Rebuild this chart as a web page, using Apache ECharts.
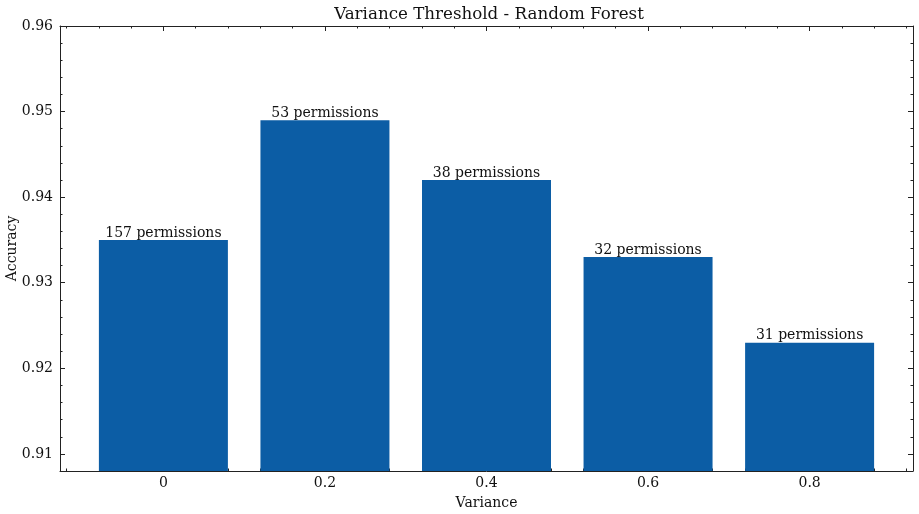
<!DOCTYPE html>
<html>
<head>
<meta charset="utf-8">
<script src="https://cdn.jsdelivr.net/npm/echarts@6/dist/echarts.min.js"></script>
<style>
  html, body { margin: 0; padding: 0; background: #fff; }
  #chart { width: 919px; height: 514px; }
</style>
</head>
<body>
<div id="chart"></div>
<script>
// data
const variances = [0, 0.2, 0.4, 0.6, 0.8];
const accuracy = [0.935, 0.949, 0.942, 0.933, 0.923];
const permissions = [157, 53, 38, 32, 31];
const xTicks = [0, 0.2, 0.4, 0.6, 0.8];
const yTicks = [0.91, 0.92, 0.93, 0.94, 0.95, 0.96];

const FONT = 'DejaVu Serif';
const INK = '#222';
const X_MIN = -0.128, X_MAX = 0.928;
const Y_MIN = 0.908, Y_MAX = 0.96;

// minor tick positions
const xMinor = [];
for (let i = -3; i <= 23; i++) xMinor.push(+(i * 0.04).toFixed(3));
const yMinor = [];
for (let i = 454; i <= 480; i++) yMinor.push(+(i * 0.002).toFixed(3));

function axis(kind, pos, ticks, len, withLine, withLabels, extra) {
  return Object.assign({
    type: 'value',
    position: pos,
    min: kind === 'x' ? X_MIN : Y_MIN,
    max: kind === 'x' ? X_MAX : Y_MAX,
    axisLine: { show: withLine, onZero: false, lineStyle: { color: INK, width: 1 } },
    axisTick: { show: true, inside: true, length: len, customValues: ticks,
                lineStyle: { color: INK, width: 1 } },
    axisLabel: withLabels ? {
      show: true, customValues: ticks, fontFamily: FONT, fontSize: 14, color: '#111',
      margin: kind === 'x' ? 5 : 7,
      formatter: v => String(+v.toFixed(3))
    } : { show: false },
    splitLine: { show: false }
  }, extra || {});
}

const bars = variances.map((v, i) => [v, accuracy[i]]);

const option = {
  animation: false,
  backgroundColor: '#fff',
  title: {
    text: 'Variance Threshold - Random Forest',
    left: 484, top: 1, textAlign: 'center',
    textStyle: { fontFamily: FONT, fontSize: 16.7, fontWeight: 'normal', color: '#111' }
  },
  grid: { left: 60, right: 6, top: 26, bottom: 43, outerBoundsMode: 'none', containLabel: false },
  xAxis: [
    axis('x', 'bottom', xTicks, 5, true, true, {
      name: 'Variance', nameLocation: 'middle', nameGap: 25, nameMoveOverlap: false,
      nameTextStyle: { fontFamily: FONT, fontSize: 14, color: '#111' }
    }),
    axis('x', 'bottom', xMinor, 2.5, false, false),
    axis('x', 'top', xTicks, 5, true, false),
    axis('x', 'top', xMinor, 2.5, false, false)
  ],
  yAxis: [
    axis('y', 'left', yTicks, 5, true, true, {
      name: 'Accuracy', nameLocation: 'middle', nameGap: 41, nameRotate: 90,
      nameMoveOverlap: false,
      nameTextStyle: { fontFamily: FONT, fontSize: 14, color: '#111' }
    }),
    axis('y', 'left', yMinor, 2.5, false, false),
    axis('y', 'right', yTicks, 5, true, false),
    axis('y', 'right', yMinor, 2.5, false, false)
  ],
  series: [{
    type: 'bar',
    xAxisIndex: 0,
    yAxisIndex: 0,
    data: bars,
    barWidth: 129,
    itemStyle: { color: '#0C5DA5' },
    label: {
      show: true, position: 'top', distance: 0,
      fontFamily: FONT, fontSize: 14, color: '#111',
      formatter: p => permissions[p.dataIndex] + ' permissions'
    }
  }]
};

const chart = echarts.init(document.getElementById('chart'));
chart.setOption(option);
</script>
</body>
</html>
